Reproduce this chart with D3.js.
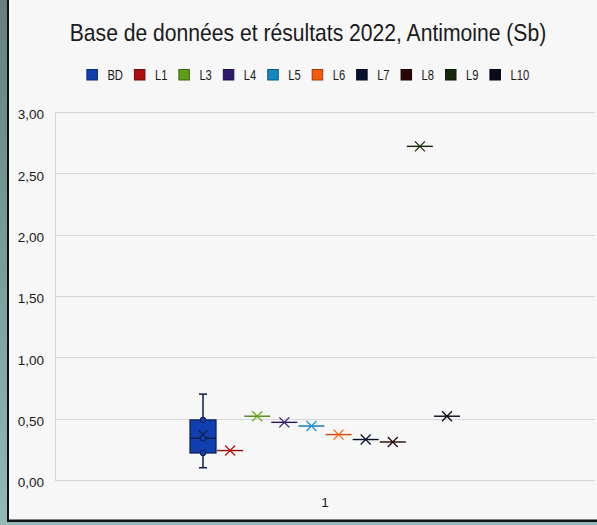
<!DOCTYPE html>
<html>
<head>
<meta charset="utf-8">
<script src="https://cdn.jsdelivr.net/npm/d3@7/dist/d3.min.js"></script>
<style>
  html, body { margin: 0; padding: 0; background: #f7f7f7; }
  svg { display: block; }
  text { font-family: "Liberation Sans", Arial, sans-serif; fill: #1a1a1a; }
</style>
</head>
<body>
<script>
// Series of the chart (BD = database distribution, L1..L10 = laboratory results)
const series = ["BD", "L1", "L3", "L4", "L5", "L6", "L7", "L8", "L9", "L10"];
const seriesColors = ["#1040b0", "#b00e0e", "#5c9e18", "#2f1a70", "#1586c2", "#f25c0c", "#06122e", "#2a0505", "#14290a", "#0b0a1a"];
// Individual database values for antimony (Sb)
const bdValues = [0.10, 0.22, 0.34, 0.49, 0.70];
// One result per laboratory, L1..L10
const labValues = [0.24, 0.52, 0.47, 0.44, 0.37, 0.33, 0.31, 2.72, 0.52];
const yTicks = [0, 0.5, 1, 1.5, 2, 2.5, 3];
const categories = ["1"];
const titleText = "Base de données et résultats 2022, Antimoine (Sb)";

const W = 597, H = 525;
const plot = { left: 55, right: 595, top: 112, bottom: 480 };

const svg = d3.select("body").append("svg").attr("width", W).attr("height", H);

// Window frame: teal strip on the left, dark border, light chart area
const defs = svg.append("defs");
const grad = defs.append("linearGradient").attr("id", "strip").attr("x1", 0).attr("y1", 0).attr("x2", 0).attr("y2", 1);
grad.append("stop").attr("offset", "0%").attr("stop-color", "#668080");
grad.append("stop").attr("offset", "100%").attr("stop-color", "#92b8b8");
svg.append("rect").attr("width", W).attr("height", H).attr("fill", "url(#strip)");
svg.append("rect").attr("x", 7).attr("y", 0).attr("width", W - 7).attr("height", 522).attr("fill", "#111");
svg.append("rect").attr("x", 9).attr("y", 0).attr("width", W - 9).attr("height", 519.5).attr("fill", "#f7f7f7");

const fr = d3.formatLocale({ decimal: ",", thousands: " ", grouping: [3], currency: ["", " €"] });
const fmt = fr.format(".2f");

const y = d3.scaleLinear().domain([0, 3]).range([plot.bottom, plot.top]);
const xCat = d3.scaleBand().domain(categories).range([plot.left, plot.right]).paddingOuter(0.5).paddingInner(0);
const xSer = d3.scaleBand().domain(series).range([0, xCat.bandwidth()]).paddingInner(0.04);
const color = d3.scaleOrdinal().domain(series).range(seriesColors);

// Gridlines
svg.append("g").selectAll("line").data(yTicks).join("line")
  .attr("x1", plot.left).attr("x2", plot.right)
  .attr("y1", d => Math.round(y(d)) + 0.5).attr("y2", d => Math.round(y(d)) + 0.5)
  .attr("stroke", "#d6d6d6").attr("stroke-width", 1.2);
svg.append("line").attr("x1", plot.left + 0.5).attr("x2", plot.left + 0.5)
  .attr("y1", y(3)).attr("y2", y(0)).attr("stroke", "#d6d6d6").attr("stroke-width", 1);

// Y axis labels
const yAxis = d3.axisLeft(y).tickValues(yTicks).tickFormat(fmt).tickSize(0).tickPadding(0);
const gy = svg.append("g").attr("transform", `translate(${plot.left - 11},0)`).call(yAxis);
gy.select(".domain").remove();
gy.selectAll("text").attr("font-size", 13.5).attr("dy", "0.5em")
  .style("font-family", "'Liberation Sans', Arial, sans-serif").attr("fill", "#1e1e1e");

// X axis label
const xAxis = d3.axisBottom(xCat).tickSize(0).tickPadding(0);
const gx = svg.append("g").attr("transform", `translate(0,${plot.bottom + 17})`).call(xAxis);
gx.select(".domain").remove();
gx.selectAll("text").attr("font-size", 13.5)
  .style("font-family", "'Liberation Sans', Arial, sans-serif").attr("fill", "#1e1e1e");

// Title (condensed lettering through a horizontal scale)
svg.append("text").attr("transform", "translate(308,41) scale(0.88,1)").attr("text-anchor", "middle")
  .attr("font-size", 24).attr("fill", "#1a1a1a").text(titleText);

// Legend, centred under the title
const legendSqueeze = 0.8;
const legend = svg.append("g");
const items = legend.selectAll("g").data(series).join("g");
items.append("rect").attr("width", 10.5).attr("height", 10.5).attr("y", 69.5)
  .attr("fill", d => color(d)).attr("stroke", d => d3.color(color(d)).darker(1.2)).attr("stroke-width", 1);
items.append("text").attr("transform", `translate(20.5,80) scale(${legendSqueeze},1)`)
  .attr("font-size", 14).text(d => d);
let cx = 0;
const offsets = [];
items.each(function () {
  const tw = d3.select(this).select("text").node().getComputedTextLength() * legendSqueeze;
  offsets.push(cx);
  cx += 20.5 + tw + 11.5;
});
const legendWidth = cx - 11.5;
const lx0 = 308 - legendWidth / 2;
items.attr("transform", (d, i) => `translate(${lx0 + offsets[i]},0)`);

// Helper drawing an "x" mean marker
function meanMarker(g, cxp, cyp, stroke, r) {
  g.append("path")
    .attr("d", `M${cxp - r},${cyp - r}L${cxp + r},${cyp + r}M${cxp - r},${cyp + r}L${cxp + r},${cyp - r}`)
    .attr("stroke", stroke).attr("stroke-width", 1.3).attr("fill", "none");
}

// Box and whisker for the database series
const sorted = bdValues.slice().sort(d3.ascending);
const q1 = d3.quantile(sorted, 0.25), med = d3.quantile(sorted, 0.5), q3 = d3.quantile(sorted, 0.75);
const iqr = q3 - q1;
const lo = d3.min(sorted.filter(v => v >= q1 - 1.5 * iqr));
const hi = d3.max(sorted.filter(v => v <= q3 + 1.5 * iqr));
const mean = d3.mean(sorted);
const bx = xCat("1") + xSer("BD"), bw = xSer.bandwidth(), bc = bx + bw / 2;
const edge = "#0e1d4a";
const box = svg.append("g");
box.append("line").attr("x1", bc).attr("x2", bc).attr("y1", y(hi)).attr("y2", y(q3)).attr("stroke", edge).attr("stroke-width", 1.5);
box.append("line").attr("x1", bc).attr("x2", bc).attr("y1", y(q1)).attr("y2", y(lo)).attr("stroke", edge).attr("stroke-width", 1.5);
box.append("line").attr("x1", bc - 4).attr("x2", bc + 4).attr("y1", y(hi)).attr("y2", y(hi)).attr("stroke", edge).attr("stroke-width", 1.5);
box.append("line").attr("x1", bc - 4).attr("x2", bc + 4).attr("y1", y(lo)).attr("y2", y(lo)).attr("stroke", edge).attr("stroke-width", 1.5);
box.append("rect").attr("x", bx).attr("y", y(q3)).attr("width", bw).attr("height", y(q1) - y(q3))
  .attr("fill", color("BD")).attr("stroke", edge).attr("stroke-width", 1.2);
box.append("line").attr("x1", bx).attr("x2", bx + bw).attr("y1", y(med)).attr("y2", y(med)).attr("stroke", edge).attr("stroke-width", 1.4);
meanMarker(box, bc, y(mean), edge, 4.5);
box.selectAll("circle").data(sorted.filter(v => v > lo && v < hi)).join("circle")
  .attr("cx", bc).attr("cy", d => y(d)).attr("r", 2.8)
  .attr("fill", color("BD")).attr("stroke", edge).attr("stroke-width", 1);

// Single laboratory results: median line plus mean marker
const labs = series.slice(1).map((s, i) => ({ s, v: labValues[i] }));
const lg = svg.append("g");
labs.forEach(d => {
  const x0 = xCat("1") + xSer(d.s), c = x0 + xSer.bandwidth() / 2;
  const base = d3.color(color(d.s));
  lg.append("line").attr("x1", x0).attr("x2", x0 + xSer.bandwidth())
    .attr("y1", y(d.v)).attr("y2", y(d.v))
    .attr("stroke", base.darker(0.5)).attr("stroke-width", 1.4);
  meanMarker(lg, c, y(d.v), base.brighter(0.3), 5);
});
</script>
</body>
</html>
